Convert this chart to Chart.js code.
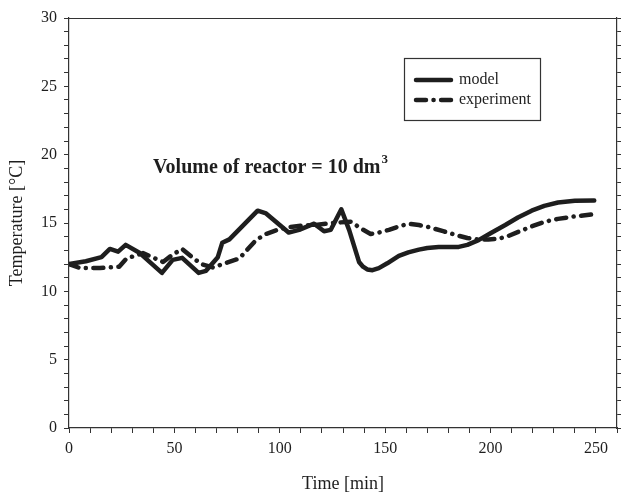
<!DOCTYPE html>
<html>
<head>
<meta charset="utf-8">
<script src="https://cdn.jsdelivr.net/npm/chart.js@4.4.0/dist/chart.umd.min.js"></script>
<style>
  html, body { margin: 0; padding: 0; background: #fff; }
  #wrap { width: 623px; height: 495px; }
</style>
</head>
<body>
<div id="wrap"><canvas id="tempChart"></canvas></div>
<script>
// reactor temperature, model vs experiment
const modelTime = [0, 8, 15.4, 19.4, 23.3, 26.9, 33.6, 44.1, 49.2, 53.7, 61.5, 65, 70.6, 72.7, 76.1, 89.5, 93.5, 104.2, 109.2, 116.3, 121, 124.2, 129.2, 132.9, 137.6, 139.5, 141.5, 144, 147, 151, 156.5, 161, 166, 170, 175.4, 180, 184.9, 189, 194.3, 200, 207, 213, 219.5, 225.5, 232, 240, 249.2];
const modelTemp = [12.0, 12.2, 12.5, 13.1, 12.9, 13.4, 12.8, 11.35, 12.3, 12.45, 11.35, 11.5, 12.5, 13.55, 13.8, 15.9, 15.7, 14.3, 14.5, 14.95, 14.4, 14.5, 16.0, 14.5, 12.15, 11.8, 11.6, 11.55, 11.7, 12.05, 12.6, 12.85, 13.05, 13.17, 13.25, 13.25, 13.25, 13.4, 13.75, 14.25, 14.85, 15.4, 15.9, 16.25, 16.5, 16.62, 16.65];

const expTime = [0, 5.2, 14.7, 23.8, 27.3, 35.1, 44.6, 49.3, 53.7, 58, 62.7, 68.2, 80.8, 88.7, 93.5, 99, 104.5, 110, 116.3, 124.8, 133.7, 138.5, 143.1, 147, 151.8, 156.5, 161.2, 166, 170.7, 177.5, 184.1, 189, 194.3, 199, 203.8, 208.5, 213.2, 219.5, 225.9, 232, 238.4, 249.2];
const expTemp = [12.0, 11.7, 11.7, 11.8, 12.4, 12.8, 12.15, 12.7, 13.1, 12.55, 12.0, 11.75, 12.4, 13.75, 14.2, 14.5, 14.7, 14.8, 14.85, 15.0, 15.1, 14.6, 14.2, 14.3, 14.5, 14.75, 14.95, 14.85, 14.7, 14.4, 14.1, 13.9, 13.8, 13.8, 13.85, 14.05, 14.35, 14.75, 15.1, 15.3, 15.45, 15.65];

const seriesLabels = ['model', 'experiment'];
const xMajor = 50, yMajor = 5;

const toPoints = (xs, ys) => xs.map((x, i) => ({ x: x, y: ys[i] }));

const serif = 'Liberation Serif, Times New Roman, serif';
const ink = '#1e1e1e';

// frame, legend box and the reactor note
const decorPlugin = {
    id: 'decor',
    afterDraw(chart) {
        const ctx = chart.ctx;
        const a = chart.chartArea;
        ctx.save();

        // top edge of the frame
        ctx.strokeStyle = '#333';
        ctx.lineWidth = 1.2;
        ctx.beginPath();
        ctx.moveTo(a.left, a.top + 0.5);
        ctx.lineTo(a.right, a.top + 0.5);
        ctx.stroke();

        // note inside the plot
        ctx.fillStyle = ink;
        ctx.textBaseline = 'alphabetic';
        ctx.textAlign = 'left';
        ctx.font = 'bold 20px ' + serif;
        const note = 'Volume of reactor = 10 dm';
        const nx = a.left + 84, ny = a.top + 155;
        ctx.fillText(note, nx, ny);
        const w = ctx.measureText(note).width;
        ctx.font = 'bold 13px ' + serif;
        ctx.fillText('3', nx + w + 1, ny - 10);

        // legend box
        const bx = a.left + 335, by = a.top + 40, bw = 136, bh = 62;
        ctx.lineWidth = 1.2;
        ctx.strokeStyle = '#333';
        ctx.strokeRect(bx + 0.5, by + 0.5, bw, bh);
        ctx.font = '16px ' + serif;
        ctx.textBaseline = 'middle';
        chart.data.datasets.forEach((ds, i) => {
            const ly = by + 22 + i * 20;
            ctx.beginPath();
            ctx.strokeStyle = ds.borderColor;
            ctx.lineWidth = ds.borderWidth;
            ctx.lineCap = ds.borderCapStyle;
            ctx.setLineDash(ds.borderDash || []);
            ctx.lineDashOffset = 0;
            ctx.moveTo(bx + 12, ly);
            ctx.lineTo(bx + 47, ly);
            ctx.stroke();
            ctx.setLineDash([]);
            ctx.fillStyle = ink;
            ctx.fillText(ds.label, bx + 55, ly);
        });
        ctx.restore();
    }
};

const ctx = document.getElementById('tempChart').getContext('2d');
const tempChart = new Chart(ctx, {
    type: 'line',
    data: {
        datasets: [{
            label: seriesLabels[0],
            data: toPoints(modelTime, modelTemp),
            borderColor: ink,
            borderWidth: 4.5,
            borderCapStyle: 'round',
            borderJoinStyle: 'round',
            tension: 0,
            pointRadius: 0,
            fill: false
        }, {
            label: seriesLabels[1],
            data: toPoints(expTime, expTemp),
            borderColor: ink,
            borderWidth: 4.5,
            borderDash: [10, 7.5, 0.1, 7.5],
            borderCapStyle: 'round',
            borderJoinStyle: 'round',
            tension: 0,
            pointRadius: 0,
            fill: false
        }]
    },
    options: {
        responsive: true,
        maintainAspectRatio: false,
        animation: false,
        layout: { padding: { top: 18, left: 0, right: 0, bottom: 0 } },
        plugins: {
            legend: { display: false },
            tooltip: { enabled: false }
        },
        scales: {
            x: {
                type: 'linear',
                min: 0,
                max: 260,
                afterFit: (s) => { s.height = 67; },
                border: { color: '#333', width: 1.2 },
                grid: { drawOnChartArea: false, tickLength: 5, color: '#333', tickWidth: 1 },
                ticks: {
                    stepSize: 10,
                    autoSkip: false,
                    maxRotation: 0,
                    padding: 6,
                    color: ink,
                    font: { family: serif, size: 16 },
                    callback: (v) => (v % xMajor === 0 && v <= 250 ? v : '')
                },
                title: {
                    display: true,
                    text: 'Time [min]',
                    color: ink,
                    font: { family: serif, size: 18 },
                    padding: { top: 0, bottom: 0 }
                }
            },
            y: {
                min: 0,
                max: 30,
                afterFit: (s) => { s.width = 69; },
                border: { color: '#333', width: 1.2 },
                grid: { drawOnChartArea: false, tickLength: 5, color: '#333', tickWidth: 1 },
                ticks: {
                    stepSize: 1,
                    autoSkip: false,
                    padding: 7,
                    color: ink,
                    font: { family: serif, size: 16 },
                    callback: (v) => (v % yMajor === 0 ? v : '')
                },
                title: {
                    display: true,
                    text: 'Temperature [°C]',
                    color: ink,
                    font: { family: serif, size: 18 },
                    padding: { top: 6, bottom: 0 }
                }
            },
            y2: {
                position: 'right',
                min: 0,
                max: 30,
                afterFit: (s) => { s.width = 4; },
                border: { color: '#333', width: 1.2 },
                grid: { drawOnChartArea: false, tickLength: 4, color: '#333', tickWidth: 1 },
                ticks: { stepSize: 1, display: false }
            }
        }
    },
    plugins: [decorPlugin]
});
</script>
</body>
</html>
